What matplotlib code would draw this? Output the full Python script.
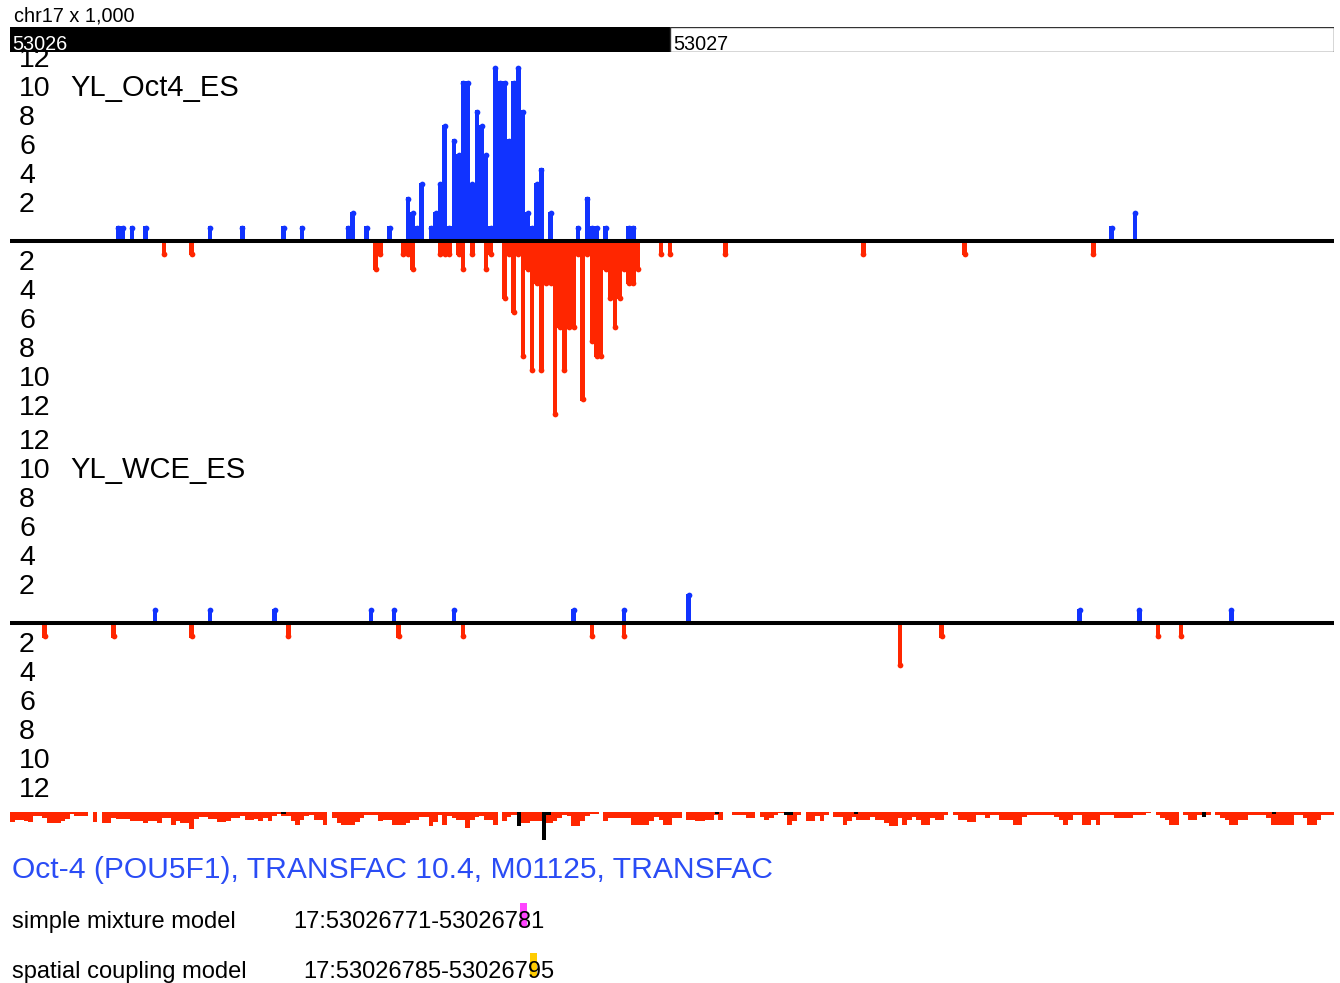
import matplotlib
matplotlib.use("Agg")
import matplotlib.pyplot as plt
from matplotlib.patches import Rectangle
from matplotlib.transforms import blended_transform_factory

plt.rcParams['font.family'] = ['Liberation Sans', 'DejaVu Sans']

W, H = 1340, 983          # canvas in pixels
NBINS = 287.8             # visible bins across the track width
BLUE = "#1133ff"
RED = "#ff2600"

# ---- read counts per bin (forward = up, reverse = down) ----
oct4_fwd_bins = [23, 24, 26, 29, 43, 50, 59, 63, 73, 74, 77, 82,
                 86, 87, 88, 89,
                 91, 92, 93, 94, 95, 96, 97, 98, 99, 100, 101, 102, 103,
                 104, 105, 106, 107, 108, 109, 110, 111, 112, 113, 114, 115,
                 117, 123, 125, 126, 127, 129, 134, 135, 239, 244]
oct4_fwd_vals = [1, 1, 1, 1, 1, 1, 1, 1, 1, 2, 1, 1,
                 3, 2, 1, 4,
                 1, 2, 4, 8, 1, 7, 6, 11, 11, 4, 9, 8, 6,
                 1, 12, 11, 11, 7, 11, 12, 9, 2, 1, 4, 5,
                 2, 1, 3, 1, 1, 1, 1, 1, 1, 2]

oct4_rev_bins = [33, 39, 79, 80, 85, 86, 87, 93, 94, 95, 97, 98, 100, 103, 104,
                 107, 108, 109, 110, 111, 112, 113, 114, 115, 116, 117, 118,
                 119, 120, 121, 122, 123, 124, 125, 126, 127, 128, 129, 130,
                 131, 132, 133, 134, 135, 136,
                 141, 143, 155, 185, 207, 235]
oct4_rev_vals = [1, 1, 2, 1, 1, 1, 2, 1, 1, 1, 1, 2, 1, 2, 1,
                 4, 1, 5, 1, 8, 2, 9, 3, 9, 3, 3, 12,
                 6, 9, 6, 6, 1, 11, 1, 7, 8, 8, 2, 4,
                 6, 4, 2, 3, 3, 2,
                 1, 1, 1, 1, 1, 1]

wce_fwd_bins = [31, 43, 57, 78, 83, 96, 122, 133, 147, 232, 245, 265]
wce_fwd_vals = [1, 1, 1, 1, 1, 1, 1, 1, 2, 1, 1, 1]
wce_rev_bins = [7, 22, 39, 60, 84, 98, 126, 133, 193, 202, 249, 254]
wce_rev_vals = [1, 1, 1, 1, 1, 1, 1, 1, 3, 1, 1, 1]

# ---- motif score track (depth per bin, 0 = no score) ----
motif_depth = [
    10, 8, 8, 9, 10, 4, 4, 6, 11, 11, 11, 9, 7, 2, 4, 4, 4, 0, 10, 0,
    11, 11, 6, 7, 7, 7, 9, 9, 9, 11, 9, 9, 11, 6, 6, 13, 9, 11, 11, 17,
    7, 5, 5, 7, 7, 10, 10, 9, 6, 6, 4, 8, 8, 7, 9, 6, 9, 4, 2, 4,
    4, 9, 13, 8, 4, 3, 8, 8, 13, 0, 6, 11, 13, 13, 13, 10, 6, 3, 3, 3,
    9, 8, 8, 13, 13, 13, 11, 8, 8, 5, 5, 14, 10, 3, 13, 4, 6, 8, 8, 16,
    8, 5, 4, 8, 8, 13, 0, 9, 5, 3, 3, 11, 11, 9, 9, 9, 11, 11, 9, 6,
    3, 4, 14, 14, 9, 4, 2, 2, 0, 9, 6, 6, 6, 6, 6, 13, 13, 13, 13, 9,
    5, 8, 13, 13, 6, 6, 0, 8, 8, 9, 9, 8, 8, 3, 8, 0, 0, 3, 3, 3,
    6, 6, 0, 5, 8, 6, 3, 1, 1, 13, 9, 3, 0, 9, 9, 4, 9, 3, 0, 5,
    5, 13, 9, 5, 8, 8, 8, 5, 8, 8, 11, 14, 14, 6, 13, 8, 5, 8, 13, 13,
    6, 8, 8, 3, 0, 3, 8, 8, 10, 10, 3, 3, 6, 3, 3, 8, 8, 8, 13, 13,
    5, 3, 3, 3, 3, 3, 3, 5, 8, 13, 8, 3, 3, 13, 13, 8, 13, 3, 3, 3,
    6, 6, 6, 6, 3, 3, 3, 1, 0, 3, 6, 8, 13, 13, 0, 3, 8, 8, 3, 3,
    3, 0, 3, 6, 8, 13, 13, 8, 8, 3, 3, 3, 3, 6, 13, 13, 13, 13, 13, 3,
    3, 6, 13, 13, 8, 3, 3, 3]
motif_bins = list(range(len(motif_depth)))

# motif hits (black): left edge in bins, width in bins, depth
hit_left = [59.0, 110.2, 115.6, 115.6, 153.2, 168.2, 183.4, 259.0, 274.3]
hit_width = [0.9, 0.9, 1.0, 2.1, 0.9, 2.0, 0.9, 0.9, 0.9]
hit_depth = [1.5, 14, 28, 2.5, 1.5, 2.5, 1.5, 5, 2]

oct4_ticks = [2, 4, 6, 8, 10, 12]


def px_axes(fig, x0, y0, x1, y1, **kw):
    return fig.add_axes([x0 / W, 1 - y1 / H, (x1 - x0) / W, (y1 - y0) / H], **kw)


def strand_track(ax, name, fbins, fvals, rbins, rvals, top, bottom):
    ax.set_xlim(0, NBINS)
    ax.set_ylim(bottom, top)
    ax.axis('off')
    fx = [b + 0.5 for b in fbins]
    rx = [b + 0.5 for b in rbins]
    ax.bar(fx, fvals, width=1.0, color=BLUE, linewidth=0)
    ax.bar(rx, [-v for v in rvals], width=1.0, color=RED, linewidth=0)
    ax.scatter(fx, [v - 0.08 for v in fvals], s=17, color=BLUE, linewidths=0, zorder=3)
    ax.scatter(rx, [-v + 0.08 for v in rvals], s=17, color=RED, linewidths=0, zorder=3)
    ax.axhline(0, color='black', lw=2.9, zorder=4)
    tr = blended_transform_factory(ax.transAxes, ax.transData)
    for t in oct4_ticks:
        for v in (t, -t):
            ax.text(0.0068, v, str(t), transform=tr, fontsize=20.5,
                    va='baseline', ha='left', color='black', clip_on=False)
    ax.text(0.0453, 10, name, transform=tr, fontsize=21,
            va='baseline', ha='left', color='black')


fig = plt.figure(figsize=(W / 100, H / 100), dpi=100)

ax1 = px_axes(fig, 10, 52, 1334, 433)
strand_track(ax1, 'YL_Oct4_ES', oct4_fwd_bins, oct4_fwd_vals,
             oct4_rev_bins, oct4_rev_vals, 13.03, -13.24)

ax2 = px_axes(fig, 10, 433, 1334, 812)
strand_track(ax2, 'YL_WCE_ES', wce_fwd_bins, wce_fwd_vals,
             wce_rev_bins, wce_rev_vals, 13.1, -13.03)

# motif score track
axm = px_axes(fig, 10, 812, 1334, 842)
axm.set_xlim(0, NBINS)
axm.set_ylim(-30, 0)
axm.axis('off')
axm.bar(motif_bins, [-d for d in motif_depth], width=1.0, align='edge',
        color=RED, linewidth=0)
axm.bar(hit_left, [-d for d in hit_depth], width=hit_width, align='edge',
        color='black', linewidth=0, zorder=3)

# coordinate header (drawn over the top of the first track)
axh = px_axes(fig, 10, 27, 1334, 52, zorder=5)
axh.set_xlim(0, NBINS)
axh.set_ylim(0, 1)
axh.axis('off')
kb_edge = 143.5
axh.add_patch(Rectangle((0, 0), kb_edge, 1, facecolor='black', edgecolor='none'))
axh.add_patch(Rectangle((kb_edge, 0.02), NBINS - kb_edge, 0.96, facecolor='white',
                        edgecolor='#333333', lw=1.0))
axh.text(0.4, 0.06, '53026', fontsize=14.3, color='white', va='baseline')
axh.text(kb_edge + 0.6, 0.06, '53027', fontsize=14.3, color='black', va='baseline')
fig.text(14 / W, 1 - 22 / H, 'chr17 x 1,000', fontsize=14.3, va='baseline')

# motif annotation text
axb = px_axes(fig, 0, 842, W, H)
axb.set_xlim(0, W)
axb.set_ylim(H, 842)
axb.axis('off')
axb.text(12, 878, 'Oct-4 (POU5F1), TRANSFAC 10.4, M01125, TRANSFAC',
         fontsize=21.6, color='#2a4cf5', va='baseline')
axb.add_patch(Rectangle((520, 903), 7, 24, facecolor='#ff44ff', edgecolor='none', zorder=0))
axb.add_patch(Rectangle((530, 953), 7, 24, facecolor='#ffcc00', edgecolor='none', zorder=0))
axb.text(12, 928, 'simple mixture model', fontsize=17, va='baseline')
axb.text(293, 928, '17:53026771-53026781', fontsize=17, va='baseline')
axb.text(12, 978, 'spatial coupling model', fontsize=17, va='baseline')
axb.text(303, 978, '17:53026785-53026795', fontsize=17, va='baseline')

fig.savefig('out.png', dpi=100, facecolor='white')
